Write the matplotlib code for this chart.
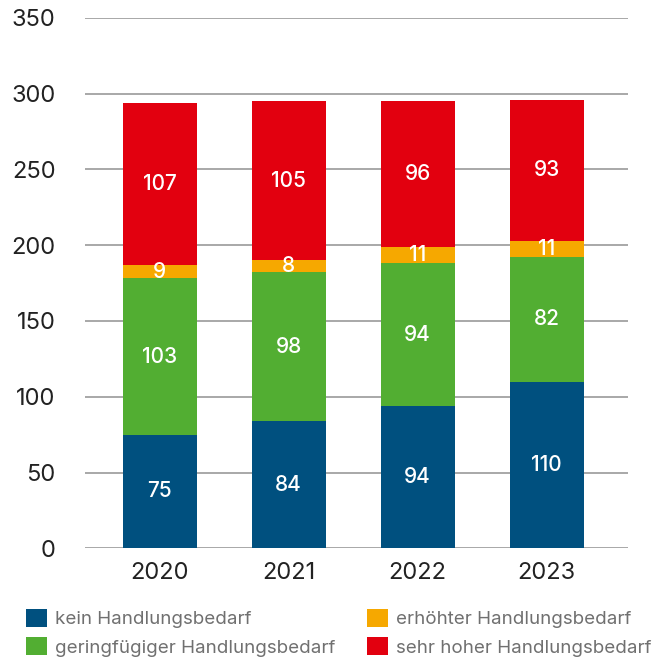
import matplotlib.pyplot as plt
import numpy as np

plt.rcParams['font.family'] = ['Inter', 'DejaVu Sans']

years = ['2020', '2021', '2022', '2023']
kein = [75, 84, 94, 110]
gering = [103, 98, 94, 82]
erhoeht = [9, 8, 11, 11]
sehr = [107, 105, 96, 93]

series = [
    ('kein Handlungsbedarf', kein, '#00507f'),
    ('geringfügiger Handlungsbedarf', gering, '#52ae32'),
    ('erhöhter Handlungsbedarf', erhoeht, '#f6a800'),
    ('sehr hoher Handlungsbedarf', sehr, '#e2000f'),
]

fig = plt.figure(figsize=(6.68, 6.59), dpi=100)
ax = fig.add_axes([0.127, 0.168, 0.813, 0.805])

x = np.arange(len(years))
bottom = np.zeros(len(years))
handles = []
for name, vals, col in series:
    b = ax.bar(x, vals, 0.575, bottom=bottom, color=col, label=name, zorder=3)
    handles.append(b)
    for xi, v, bt in zip(x, vals, bottom):
        ax.text(xi, bt + v / 2, str(v), ha='center', va='center',
                color='white', fontsize=15, fontweight='medium', zorder=4)
    bottom += np.array(vals)

ax.set_xlim(-0.58, 3.63)
ax.set_ylim(0, 350)
ax.set_yticks(range(0, 351, 50))
ax.set_xticks(x)
ax.set_xticklabels(years)
ax.yaxis.grid(True, color='#999999', linewidth=1.2, zorder=0)
for s in ax.spines.values():
    s.set_visible(False)
ax.tick_params(axis='both', length=0, labelsize=17, colors='#222222')
ax.tick_params(axis='y', pad=21)
ax.tick_params(axis='x', pad=10)

fig.legend(handles=handles, loc='lower left', bbox_to_anchor=(0.025, -0.011),
           ncol=2, frameon=False, fontsize=13.5, labelcolor='#707070',
           handlelength=1.1, handleheight=1.1, handletextpad=0.45,
           columnspacing=1.7, labelspacing=0.5, borderaxespad=0.1)

fig.savefig('out.png', dpi=100)
